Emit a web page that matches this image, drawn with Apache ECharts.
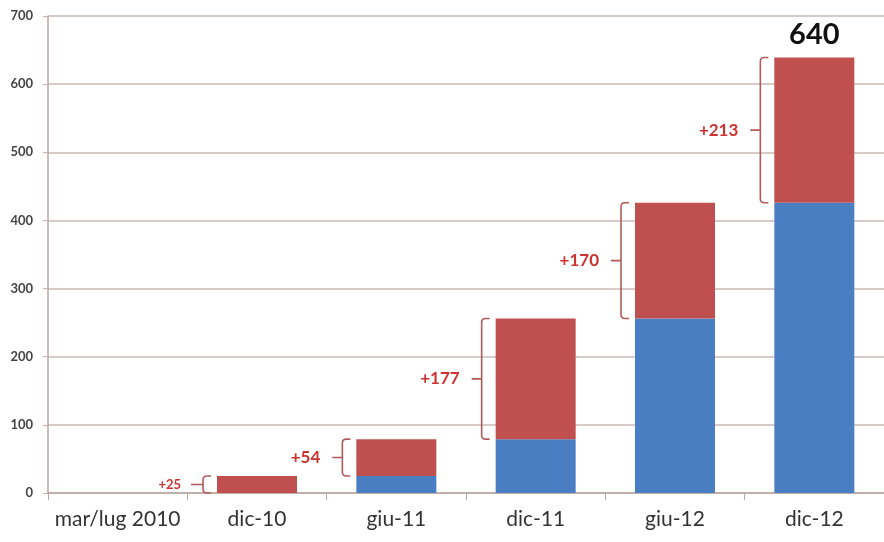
<!DOCTYPE html>
<html>
<head>
<meta charset="utf-8">
<script src="https://cdn.jsdelivr.net/npm/echarts@6/dist/echarts.min.js"></script>
<style>
  html, body { margin: 0; padding: 0; background: #fff; }
  #chart { width: 884px; height: 542px; }
</style>
</head>
<body>
<div id="chart"></div>
<script>
var categories = ['mar/lug 2010', 'dic-10', 'giu-11', 'dic-11', 'giu-12', 'dic-12'];
var baseValues = [0, 0, 25, 79, 256, 426];
var growthValues = [0, 25, 54, 177, 170, 213];
var topLabel = '640';
var yTicks = [0, 100, 200, 300, 400, 500, 600, 700];

var BAR_W = 80;
var braceColor = '#b35a58';
var labelRed = '#cc3330';

// brace items: [index, base, total, growth]
var braceData = [];
for (var i = 0; i < categories.length; i++) {
  if (growthValues[i] > 0) {
    braceData.push([i, baseValues[i], baseValues[i] + growthValues[i], growthValues[i]]);
  }
}

function renderBrace(params, api) {
  var idx = api.value(0);
  var cx = api.coord([idx, 0])[0];
  var y0 = api.coord([idx, api.value(1)])[1];
  var y1 = api.coord([idx, api.value(2)])[1];
  var x = cx - BAR_W / 2 - 14;
  var ym = (y0 + y1) / 2;
  var r = 4;
  var small = api.value(3) < 40;
  var tick = small ? 12 : 10;
  var path = 'M' + (x + 8) + ' ' + y1 +
    ' L' + (x + r) + ' ' + y1 +
    ' Q' + x + ' ' + y1 + ' ' + x + ' ' + (y1 + r) +
    ' L' + x + ' ' + (y0 - r) +
    ' Q' + x + ' ' + y0 + ' ' + (x + r) + ' ' + y0 +
    ' L' + (x + 8) + ' ' + y0 +
    ' M' + x + ' ' + ym + ' L' + (x - tick) + ' ' + ym;
  return {
    type: 'group',
    children: [
      {
        type: 'path',
        shape: { pathData: path },
        style: { stroke: braceColor, lineWidth: 1.6, fill: null }
      },
      {
        type: 'text',
        style: {
          text: '+' + api.value(3),
          x: x - tick - (small ? 10 : 12),
          y: ym,
          align: 'right',
          verticalAlign: 'middle',
          fill: labelRed,
          font: 'bold ' + (small ? 13 : 17) + 'px Lato'
        }
      }
    ]
  };
}

var option = {
  animation: false,
  backgroundColor: '#ffffff',
  textStyle: { fontFamily: 'Lato' },
  grid: { left: 48, right: 0, top: 16, bottom: 49, containLabel: false },
  xAxis: {
    type: 'category',
    data: categories,
    axisLine: { lineStyle: { color: '#b9a6a2', width: 1.5 } },
    axisTick: { show: true, length: 7, lineStyle: { color: '#b9a6a2' } },
    axisLabel: { interval: 0, color: '#333', fontSize: 21, margin: 16, fontFamily: 'Lato' }
  },
  yAxis: {
    type: 'value',
    min: yTicks[0],
    max: yTicks[yTicks.length - 1],
    interval: 100,
    axisLine: { show: true, lineStyle: { color: '#b9a6a2', width: 1.5 } },
    axisTick: { show: true, length: 5, lineStyle: { color: '#c4b3ae' } },
    axisLabel: { color: '#444', fontSize: 13, fontWeight: 'bold', margin: 15, fontFamily: 'Lato' },
    splitLine: { lineStyle: { color: '#cbbab5', width: 1.5 } }
  },
  series: [
    {
      name: 'base',
      type: 'bar',
      stack: 'tot',
      barWidth: BAR_W,
      itemStyle: { color: '#4a7ec3' },
      data: baseValues
    },
    {
      name: 'crescita',
      type: 'bar',
      stack: 'tot',
      barWidth: BAR_W,
      itemStyle: { color: '#c0504f' },
      data: growthValues.map(function (v, i) {
        if (i === growthValues.length - 1) {
          return {
            value: v,
            label: {
              show: true,
              position: 'top',
              distance: 8,
              formatter: topLabel,
              color: '#111',
              fontSize: 29,
              fontWeight: 'bold',
              fontFamily: 'Lato'
            }
          };
        }
        return v;
      })
    },
    {
      name: 'graffe',
      type: 'custom',
      renderItem: renderBrace,
      encode: { x: 0, y: [1, 2] },
      z: 5,
      data: braceData
    }
  ]
};

var chart = echarts.init(document.getElementById('chart'));
chart.setOption(option);
</script>
</body>
</html>
